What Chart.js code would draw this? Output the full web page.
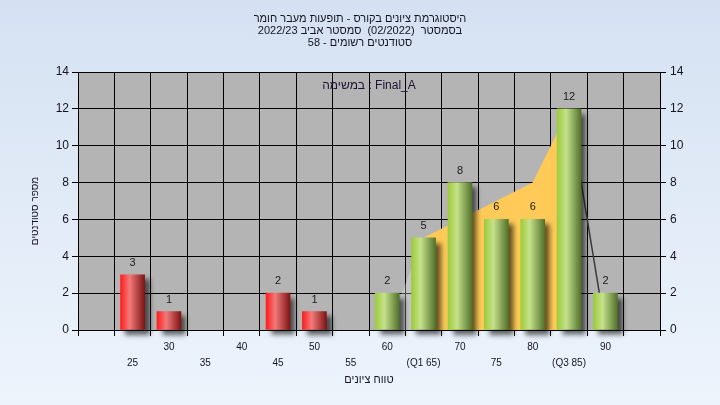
<!DOCTYPE html>
<html>
<head>
<meta charset="UTF-8">
<title>היסטוגרמת ציונים</title>
<script src="https://cdn.jsdelivr.net/npm/chart.js@4.4.1/dist/chart.umd.min.js"></script>
<style>
	html, body { margin:0; padding:0; }
	body { width:720px; height:405px; background:linear-gradient(#d5e1f2, #edf4fc); overflow:hidden; }
	#wrap { position:relative; width:720px; height:405px; }
</style>
</head>
<body>
<div id="wrap"><canvas id="histChart"></canvas></div>
<script>
// histogram data
var grades = [25, 30, 35, 40, 45, 50, 55, 60, 65, 70, 75, 80, 85, 90];
var counts = [3, 1, 0, 0, 2, 1, 0, 2, 5, 8, 6, 6, 12, 2];
var passGrade = 60;

// shaded curve behind the bars (Q1..Q3 filled orange)
var curveX = [60, 65, 80, 85, 90];
var curveY = [0, 5, 8, 12, 0];
var q1 = 65;
var q3 = 85;
var tickNames = { 65: '(Q1 65)', 85: '(Q3 85)' };

var titleLines = [
	'היסטוגרמת ציונים בקורס - תופעות מעבר חומר',
	'בסמסטר  (02/2022)  סמסטר אביב 2022/23',
	'סטודנטים רשומים - 58'
];
var taskLabel = 'במשימה : Final_A';
var xTitle = 'טווח ציונים';
var yTitle = 'מספר סטודנטים';

var FONT = "'Liberation Sans', Arial, sans-serif";
Chart.defaults.font.family = FONT;
Chart.defaults.color = '#141420';

function pts(from, to) {
	var out = [];
	for (var i = from; i <= to; i++) out.push({ x: curveX[i], y: curveY[i] });
	return out;
}
var i1 = curveX.indexOf(q1);
var i3 = curveX.indexOf(q3);

function barGradient(c) {
	var fail = grades[c.dataIndex] < passGrade;
	var chart = c.chart;
	var cx = chart.scales.x ? chart.scales.x.getPixelForValue(grades[c.dataIndex]) : NaN;
	if (c.type !== 'data' || !isFinite(cx)) return fail ? '#e03030' : '#9ccc3a';
	var g = chart.ctx.createLinearGradient(cx - 12, 0, cx + 12, 0);
	if (fail) {
		g.addColorStop(0, '#ff1c1c');
		g.addColorStop(0.38, '#f27a7a');
		g.addColorStop(1, '#7e1414');
	} else {
		g.addColorStop(0, '#9ccc3a');
		g.addColorStop(0.38, '#c6e18c');
		g.addColorStop(1, '#52722a');
	}
	return g;
}

var plotBg = {
	id: 'plotBg',
	beforeDraw: function(chart) {
		var a = chart.chartArea, ctx = chart.ctx;
		ctx.save();
		ctx.fillStyle = '#b4b4b4';
		ctx.fillRect(a.left, a.top, a.right - a.left, a.bottom - a.top);
		ctx.restore();
	}
};

var barShadow = {
	id: 'barShadow',
	beforeDatasetDraw: function(chart, args) {
		if (chart.data.datasets[args.index].type !== 'bar') return;
		var ctx = chart.ctx;
		ctx.save();
		ctx.shadowColor = 'rgba(0,0,0,0.6)';
		ctx.shadowBlur = 5;
		ctx.shadowOffsetX = 5;
		ctx.shadowOffsetY = 5;
	},
	afterDatasetDraw: function(chart, args) {
		if (chart.data.datasets[args.index].type !== 'bar') return;
		chart.ctx.restore();
	}
};

var texts = {
	id: 'texts',
	afterDatasetsDraw: function(chart) {
		var ctx = chart.ctx, a = chart.chartArea;
		ctx.save();
		ctx.textBaseline = 'middle';
		ctx.textAlign = 'center';

		// value above each bar
		ctx.font = '11px ' + FONT;
		ctx.fillStyle = '#1a1a1a';
		chart.data.datasets.forEach(function(ds, di) {
			if (ds.type !== 'bar') return;
			chart.getDatasetMeta(di).data.forEach(function(el, i) {
				if (!counts[i]) return;
				ctx.fillText(String(counts[i]), el.x, el.y - 12);
			});
		});

		// task name inside the plot
		ctx.font = '12px ' + FONT;
		ctx.fillStyle = '#1e1236';
		ctx.fillText(taskLabel, (a.left + a.right) / 2, a.top + 14);

		// y axis title
		ctx.font = '10px ' + FONT;
		ctx.fillStyle = '#141420';
		ctx.translate(35, (a.top + a.bottom) / 2 + 10);
		ctx.rotate(-Math.PI / 2);
		ctx.fillText(yTitle, 0, 0);
		ctx.restore();
	}
};

var ctx = document.getElementById('histChart').getContext('2d');
var histChart = new Chart(ctx, {
	data: {
		datasets: [{
			type: 'bar',
			data: grades.map(function(g, i) { return { x: g, y: counts[i] || null }; }),
			backgroundColor: barGradient,
			borderWidth: 0,
			barThickness: 24,
			clip: false,
			order: 1
		}, {
			type: 'line',
			data: pts(0, i1),
			fill: 'origin',
			backgroundColor: 'rgba(240,240,240,0.3)',
			borderWidth: 0,
			pointRadius: 0,
			tension: 0,
			order: 3
		}, {
			type: 'line',
			data: pts(i1, i3),
			fill: 'origin',
			backgroundColor: '#ffca57',
			borderWidth: 0,
			pointRadius: 0,
			tension: 0,
			order: 3
		}, {
			type: 'line',
			data: pts(i3, curveX.length - 1),
			fill: false,
			borderColor: '#3a3a3a',
			borderWidth: 1.5,
			pointRadius: 0,
			tension: 0,
			order: 2
		}]
	},
	options: {
		responsive: true,
		maintainAspectRatio: false,
		animation: false,
		layout: { padding: 0 },
		plugins: {
			legend: { display: false },
			tooltip: { enabled: false },
			title: {
				display: true,
				text: titleLines,
				color: '#141420',
				font: { size: 11, weight: 'normal', lineHeight: 1.1 },
				padding: { top: 13, bottom: 22.7 }
			}
		},
		scales: {
			x: {
				type: 'linear',
				min: 20,
				max: 95,
				ticks: {
					stepSize: 5,
					autoSkip: false,
					maxRotation: 0,
					padding: 3,
					font: { size: 10, lineHeight: 1.6 },
					callback: function(v) {
						if (v < grades[0] || v > grades[grades.length - 1]) return '';
						var name = tickNames[v] || String(v);
						return v % 10 === 0 ? name : ['', name];
					}
				},
				grid: { color: '#000', lineWidth: 1, tickLength: 6 },
				border: { color: '#000' },
				title: {
					display: true,
					text: xTitle,
					font: { size: 11 },
					padding: { top: 2, bottom: 18 }
				},
				afterFit: function(s) { s.height = 75; }
			},
			y: {
				min: 0,
				max: 14,
				ticks: { stepSize: 2, padding: 3, font: { size: 12 } },
				grid: { color: '#000', lineWidth: 1, tickLength: 6 },
				border: { color: '#000' },
				afterFit: function(s) { s.width = 78; }
			},
			y1: {
				position: 'right',
				min: 0,
				max: 14,
				ticks: { stepSize: 2, padding: 4, font: { size: 12 } },
				grid: { drawOnChartArea: false, color: '#000', tickLength: 6 },
				border: { color: '#000' },
				afterFit: function(s) { s.width = 60; }
			}
		}
	},
	plugins: [plotBg, barShadow, texts]
});
</script>
</body>
</html>
